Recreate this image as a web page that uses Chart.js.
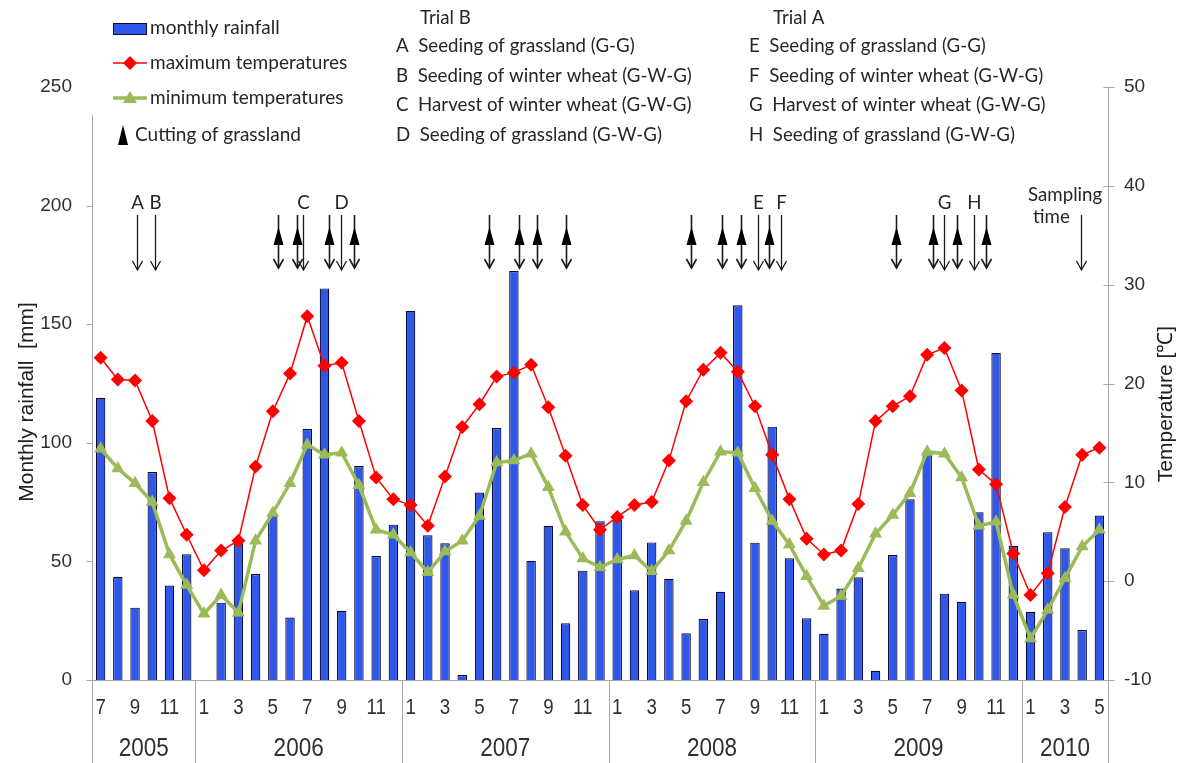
<!DOCTYPE html>
<html>
<head>
<meta charset="utf-8">
<script src="https://cdn.jsdelivr.net/npm/chart.js@4.4.0/dist/chart.umd.min.js"></script>
<style>
  html, body { margin: 0; padding: 0; background: #fff; }
  #wrap { width: 1185px; height: 763px; }
</style>
</head>
<body>
<div id="wrap"><canvas id="chart" width="1185" height="763"></canvas></div>
<script>
// months Jul 2005 .. May 2010
const months = ['7','8','9','10','11','12',
  '1','2','3','4','5','6','7','8','9','10','11','12',
  '1','2','3','4','5','6','7','8','9','10','11','12',
  '1','2','3','4','5','6','7','8','9','10','11','12',
  '1','2','3','4','5','6','7','8','9','10','11','12',
  '1','2','3','4','5'];
const years = ['2005','2006','2007','2008','2009','2010'];

// monthly rainfall [mm]
const rainfall = [119, 43.5, 30.5, 87.7, 39.8, 53,
  null, 32.6, 57.7, 44.7, 69.6, 26.3, 105.8, 165.1, 29.2, 90.2, 52.3, 65.5,
  155.6, 61, 57.6, 2.1, 79, 106.2, 172.4, 50.3, 65, 23.9, 46.1, 66.9,
  67.5, 37.8, 58, 42.7, 19.7, 25.7, 37.2, 158, 57.9, 106.8, 51.3, 26,
  19.5, 38.6, 43.3, 3.9, 52.7, 76.2, 94.7, 36.4, 33, 70.7, 137.9, 56.6,
  28.8, 62.3, 55.5, 21.1, 69.3];

// temperatures [°C]
const maxTemp = [22.6, 20.4, 20.3, 16.2, 8.4, 4.7,
  1.1, 3.1, 4.1, 11.6, 17.2, 21.0, 26.8, 21.8, 22.1, 16.2, 10.5, 8.3,
  7.7, 5.6, 10.6, 15.6, 17.9, 20.7, 21.1, 21.9, 17.6, 12.7, 7.7, 5.2,
  6.5, 7.7, 8.0, 12.2, 18.2, 21.4, 23.1, 21.2, 17.7, 12.8, 8.3, 4.3,
  2.7, 3.1, 7.8, 16.2, 17.7, 18.7, 22.9, 23.6, 19.3, 11.3, 9.8, 2.8,
  -1.4, 0.8, 7.5, 12.8, 13.5];
const minTemp = [13.4, 11.4, 9.9, 8.0, 2.7, -0.4,
  -3.3, -1.4, -3.2, 4.1, 6.9, 9.9, 13.8, 12.8, 13.0, 9.7, 5.2, 4.7,
  2.9, 0.9, 3.0, 4.1, 6.6, 12.0, 12.2, 12.9, 9.5, 5.0, 2.3, 1.4,
  2.2, 2.6, 1.0, 3.1, 6.1, 10.0, 13.1, 13.0, 9.4, 6.1, 3.7, 0.5,
  -2.5, -1.5, 1.3, 4.8, 6.7, 8.9, 13.1, 12.9, 10.5, 5.6, 6.0, -1.4,
  -5.8, -2.9, 0.3, 3.5, 5.2];

const rainTicks = [0, 50, 100, 150, 200, 250];
const tempTicks = [-10, 0, 10, 20, 30, 40, 50];

// events, as position on the month axis (index, fraction inside month)
const cuttings = [10.28, 11.42, 13.28, 14.71, 22.57, 24.31, 25.36, 27.03,
  34.28, 36.07, 37.17, 38.81, 46.19, 48.36, 49.75, 51.42];
const eventLetters = ['A', 'B', 'C', 'D', 'E', 'F', 'G', 'H'];
const eventPos = [2.10, 3.16, 11.77, 13.94, 38.19, 39.51, 48.98, 50.72];
const samplingPos = 56.92;

const trialB = ['A  Seeding of grassland (G-G)', 'B  Seeding of winter wheat (G-W-G)',
  'C  Harvest of winter wheat (G-W-G)', 'D  Seeding of grassland (G-W-G)'];
const trialA = ['E  Seeding of grassland (G-G)', 'F  Seeding of winter wheat (G-W-G)',
  'G  Harvest of winter wheat (G-W-G)', 'H  Seeding of grassland (G-W-G)'];

const BLUE = '#2f57ea';
const RED = '#ff0000';
const GREEN = '#9bbb59';
const AXIS = '#a6a6a6';
const TXT = '#262626';
const LBL_FONT = '"Lato", "Open Sans", sans-serif';
const NUM_FONT = '"Liberation Sans", Arial, sans-serif';

function seg(ctx, x1, y1, x2, y2) {
  ctx.beginPath(); ctx.moveTo(x1, y1); ctx.lineTo(x2, y2); ctx.stroke();
}
function narrowText(ctx, txt, x, y, sx) {
  ctx.save(); ctx.translate(x, y); ctx.scale(sx, 1); ctx.fillText(txt, 0, 0); ctx.restore();
}
function downArrow(ctx, x, top, bottom) {
  seg(ctx, x, top, x, bottom);
  ctx.beginPath();
  ctx.moveTo(x - 5, bottom - 9); ctx.lineTo(x, bottom); ctx.lineTo(x + 5, bottom - 9);
  ctx.stroke();
}
function upTriangle(ctx, x, top, h, w) {
  ctx.beginPath();
  ctx.moveTo(x, top); ctx.lineTo(x + w / 2, top + h); ctx.lineTo(x - w / 2, top + h);
  ctx.closePath(); ctx.fill();
}

const decor = {
  id: 'decor',
  beforeDatasetsDraw(chart) {
    const ctx = chart.ctx, a = chart.chartArea;
    const xs = chart.scales.x, yl = chart.scales.y, yr = chart.scales.y1;
    ctx.save();
    ctx.strokeStyle = AXIS; ctx.lineWidth = 1;
    const L = Math.round(a.left) + 0.5, R = Math.round(a.right) + 0.5, B = Math.round(a.bottom) + 0.5;
    seg(ctx, L, 115, L, B);
    seg(ctx, R, a.top, R, B);
    seg(ctx, L, B, R, B);
    rainTicks.forEach(v => {
      if (v === 250) return;
      const y = Math.round(yl.getPixelForValue(v)) + 0.5;
      seg(ctx, L - 6, y, L, y);
    });
    tempTicks.forEach(v => {
      const y = Math.round(yr.getPixelForValue(v)) + 0.5;
      seg(ctx, R - 5, y, R + 6, y);
    });
    // year separators below the axis
    const bounds = [a.left];
    months.forEach((m, i) => {
      if (m === '1' && i > 0) bounds.push((xs.getPixelForValue(i - 1) + xs.getPixelForValue(i)) / 2);
    });
    bounds.push(a.right);
    bounds.forEach(b => seg(ctx, Math.round(b) + 0.5, B, Math.round(b) + 0.5, 763));

    // tick labels
    ctx.fillStyle = '#303030';
    ctx.font = '19px ' + NUM_FONT;
    ctx.textBaseline = 'middle';
    ctx.textAlign = 'right';
    rainTicks.forEach(v => ctx.fillText(String(v), 72, yl.getPixelForValue(v)));
    ctx.textAlign = 'left';
    tempTicks.forEach(v => ctx.fillText(String(v), 1124, yr.getPixelForValue(v)));
    ctx.textAlign = 'center';
    ctx.font = '22px ' + NUM_FONT;
    months.forEach((m, i) => {
      if (i % 2 === 0) narrowText(ctx, m, xs.getPixelForValue(i), 708, 0.85);
    });
    ctx.font = '25px ' + NUM_FONT;
    years.forEach((yr0, k) => narrowText(ctx, yr0, (bounds[k] + bounds[k + 1]) / 2, 749, 0.9));

    // axis titles
    ctx.font = '21px ' + NUM_FONT;
    ctx.fillStyle = '#202020';
    ctx.save(); ctx.translate(27, 402); ctx.rotate(-Math.PI / 2);
    ctx.fillText('Monthly rainfall  [mm]', 0, 0); ctx.restore();
    ctx.save(); ctx.translate(1166, 404); ctx.rotate(-Math.PI / 2);
    ctx.fillText('Temperature [\u2103]', 0, 0); ctx.restore();
    ctx.restore();
  },
  afterDraw(chart) {
    const ctx = chart.ctx;
    const xs = chart.scales.x;
    ctx.save();
    // legend
    ctx.fillStyle = BLUE; ctx.strokeStyle = '#0a0a30'; ctx.lineWidth = 1;
    ctx.fillRect(113.5, 23.5, 33, 11); ctx.strokeRect(113.5, 23.5, 33, 11);
    ctx.strokeStyle = RED; ctx.lineWidth = 1.5;
    seg(ctx, 113, 63, 147, 63);
    ctx.fillStyle = RED;
    ctx.beginPath(); ctx.moveTo(130, 56); ctx.lineTo(137, 63); ctx.lineTo(130, 70); ctx.lineTo(123, 63); ctx.closePath(); ctx.fill();
    ctx.strokeStyle = GREEN; ctx.lineWidth = 3.5;
    seg(ctx, 113, 98, 147, 98);
    ctx.fillStyle = GREEN;
    upTriangle(ctx, 130, 91, 12, 14);
    ctx.fillStyle = '#000';
    upTriangle(ctx, 123, 125, 20, 10);

    ctx.fillStyle = TXT;
    ctx.font = '19px ' + LBL_FONT;
    ctx.textAlign = 'left'; ctx.textBaseline = 'middle';
    ctx.fillText('monthly rainfall', 150, 28);
    ctx.fillText('maximum temperatures', 150, 63);
    ctx.fillText('minimum temperatures', 150, 98);
    ctx.fillText('Cutting of grassland', 135, 135);

    ctx.font = '18.7px ' + LBL_FONT;
    ctx.fillText('Trial B', 420, 18);
    trialB.forEach((t, i) => ctx.fillText(t, 396, 46 + i * 29.5));
    ctx.fillText('Trial A', 773, 18);
    trialA.forEach((t, i) => ctx.fillText(t, 749, 46 + i * 29.5));

    // arrows
    ctx.strokeStyle = '#1a1a1a'; ctx.lineWidth = 1.3;
    ctx.textAlign = 'center';
    eventPos.forEach((p, i) => {
      const x = Math.round(xs.getPixelForValue(p)) + 0.5;
      downArrow(ctx, x, 215, 270);
      ctx.fillText(eventLetters[i], x, 203);
    });
    ctx.fillStyle = '#000';
    ctx.lineWidth = 1.6;
    cuttings.forEach(p => {
      const x = Math.round(xs.getPixelForValue(p)) + 0.5;
      downArrow(ctx, x, 215, 268);
      upTriangle(ctx, x, 227, 18, 10);
    });
    ctx.lineWidth = 1.3;
    const xsamp = Math.round(xs.getPixelForValue(samplingPos)) + 0.5;
    downArrow(ctx, xsamp, 215, 270);
    ctx.fillStyle = TXT;
    ctx.textAlign = 'left';
    ctx.fillText('Sampling', 1028, 195);
    ctx.fillText('time', 1033, 217);
    ctx.restore();
  }
};

new Chart(document.getElementById('chart'), {
  data: {
    labels: months,
    datasets: [
      {
        type: 'line', label: 'minimum temperatures', data: minTemp, yAxisID: 'y1', order: 1,
        borderColor: GREEN, backgroundColor: GREEN, borderWidth: 3.5, tension: 0,
        pointStyle: 'triangle', pointRadius: 7.5, pointBorderWidth: 0
      },
      {
        type: 'line', label: 'maximum temperatures', data: maxTemp, yAxisID: 'y1', order: 2,
        borderColor: RED, backgroundColor: RED, borderWidth: 1.5, tension: 0,
        pointStyle: 'rectRot', pointRadius: 7, pointBorderWidth: 0
      },
      {
        type: 'bar', label: 'monthly rainfall', data: rainfall, yAxisID: 'y', order: 3,
        backgroundColor: BLUE, borderColor: '#0a0a30', borderWidth: 1.2,
        barPercentage: 0.55, categoryPercentage: 1
      }
    ]
  },
  options: {
    responsive: false,
    animation: false,
    devicePixelRatio: 1,
    layout: { padding: { left: 92, right: 77, top: 87, bottom: 83 } },
    plugins: { legend: { display: false }, tooltip: { enabled: false } },
    scales: {
      x: { type: 'category', offset: true, display: false },
      y: { type: 'linear', position: 'left', min: 0, max: 250, display: false },
      y1: { type: 'linear', position: 'right', min: -10, max: 50, display: false }
    }
  },
  plugins: [decor]
});
</script>
</body>
</html>
